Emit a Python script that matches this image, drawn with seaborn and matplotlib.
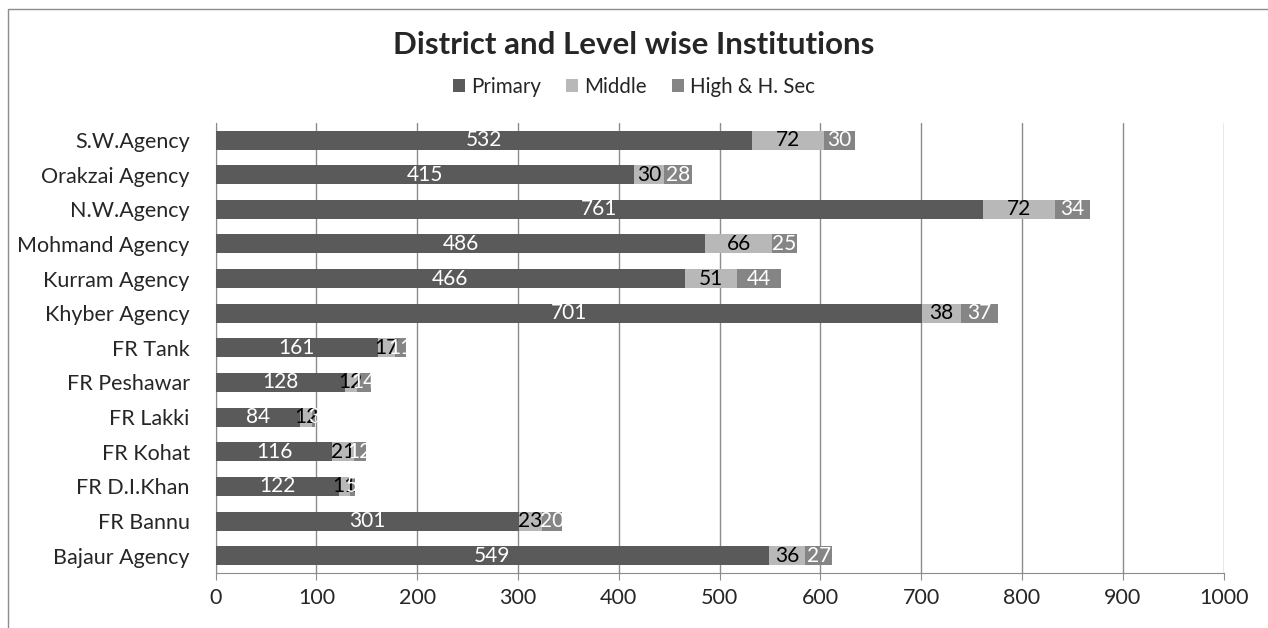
import pandas as pd
import seaborn as sns
import matplotlib.pyplot as plt

districts = ["S.W.Agency", "Orakzai Agency", "N.W.Agency", "Mohmand Agency",
             "Kurram Agency", "Khyber Agency", "FR Tank", "FR Peshawar",
             "FR Lakki", "FR Kohat", "FR D.I.Khan", "FR Bannu", "Bajaur Agency"]
primary = [532, 415, 761, 486, 466, 701, 161, 128, 84, 116, 122, 301, 549]
middle = [72, 30, 72, 66, 51, 38, 17, 12, 12, 21, 11, 23, 36]
high = [30, 28, 34, 25, 44, 37, 11, 14, 3, 12, 5, 20, 27]

levels = ["Primary", "Middle", "High & H. Sec"]
colors = ["#5a5a5a", "#b8b8b8", "#858585"]
label_colors = ["white", "black", "white"]

df = pd.DataFrame({"District": districts, "Primary": primary,
                   "Middle": middle, "High & H. Sec": high})
df["c1"] = df["Primary"]
df["c2"] = df["c1"] + df["Middle"]
df["c3"] = df["c2"] + df["High & H. Sec"]

sns.set_style("white")
plt.rcParams["font.family"] = ["Lato", "DejaVu Sans"]

fig = plt.figure(figsize=(12.68, 6.28), dpi=100)
ax = fig.add_axes([0.170, 0.0876, 0.795, 0.717])

# stacked bars drawn as overlapping cumulative bars, largest first
for col, c, lab in [("c3", colors[2], levels[2]), ("c2", colors[1], levels[1]),
                    ("c1", colors[0], levels[0])]:
    sns.barplot(data=df, x=col, y="District", color=c, width=0.55,
                orient="h", ax=ax, label=lab, saturation=1, zorder=3,
                linewidth=0)

# segment labels
starts = [df["c1"] - df["Primary"], df["c1"], df["c2"]]
for lev, st, tc in zip(levels, starts, label_colors):
    for i, (v, s) in enumerate(zip(df[lev], st)):
        ax.text(s + v / 2, i, str(v), ha="center", va="center",
                color=tc, fontsize=15, zorder=5)

ax.set_xlim(0, 1000)
ax.set_xticks(range(0, 1001, 100))
ax.set_ylim(12.5, -0.5)
ax.set_xlabel("")
ax.set_ylabel("")
ax.grid(axis="x", color="#8c8c8c", linewidth=1, zorder=0)
ax.set_axisbelow(True)
for side in ["top", "right"]:
    ax.spines[side].set_visible(False)
for side in ["left", "bottom"]:
    ax.spines[side].set_color("#8c8c8c")
ax.tick_params(axis="x", bottom=True, length=5, color="#8c8c8c",
               labelsize=15.5, pad=6)
ax.tick_params(axis="y", left=False, labelsize=15.5, pad=15)

handles, labels = ax.get_legend_handles_labels()
order = [labels.index(l) for l in levels]
fig.legend([handles[i] for i in order], levels, loc="center",
           bbox_to_anchor=(0.5, 0.862), ncol=3, frameon=False,
           fontsize=14.8, handlelength=0.6, handleheight=0.6,
           handletextpad=0.3, columnspacing=1.2)
if ax.get_legend():
    ax.get_legend().remove()

fig.text(0.5, 0.928, "District and Level wise Institutions", ha="center",
         va="center", fontsize=22.5, fontweight="bold")

border = plt.Rectangle((0.006, -0.1), 1.2, 1.085, transform=fig.transFigure,
                       fill=False, edgecolor="#8c8c8c", linewidth=1)
fig.patches.append(border)

fig.savefig("out.png", dpi=100)
